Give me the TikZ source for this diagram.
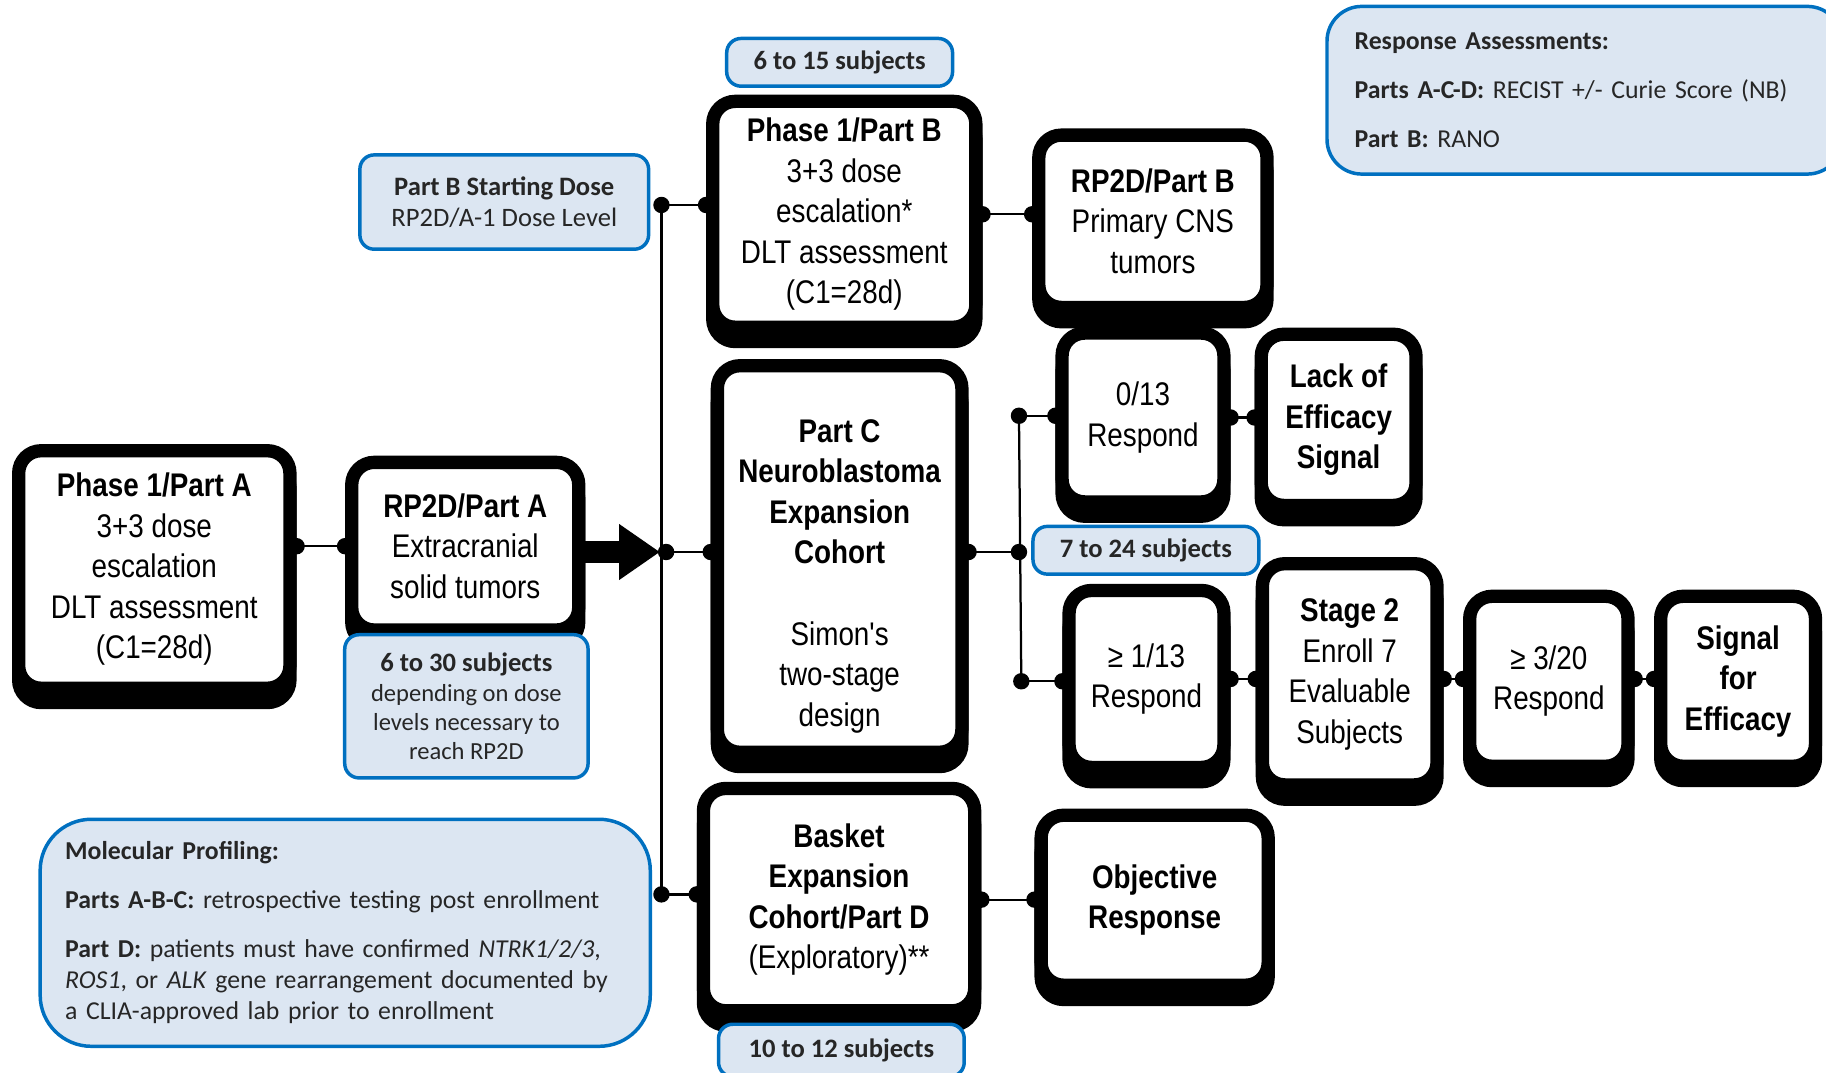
\documentclass[tikz,border=0pt]{standalone}
\usepackage{fontspec}
\usetikzlibrary{arrows.meta}
\newfontfamily\narrowfont[FakeStretch=0.85]{Liberation Sans}
\newfontfamily\calfont{Carlito}
\definecolor{noteblue}{RGB}{0,112,192}
\definecolor{notefill}{RGB}{220,230,242}
\tikzset{
	stepbox/.style={draw=black, line width=6.5pt, fill=white, rounded corners=11pt,
		preaction={draw=black, fill=black, line width=6.5pt, transform canvas={yshift=-7pt}},
		align=center, inner sep=2pt, font=\narrowfont\fontsize{16}{19.8}\selectfont},
	notebox/.style={draw=noteblue, line width=1.7pt, fill=notefill, rounded corners=7pt,
		align=center, inner sep=2pt, text=black!85, font=\calfont\fontsize{13}{15.3}\selectfont},
	link/.style={line width=1.1pt, shorten <=-4pt, shorten >=-4pt, {Circle[length=8pt]}-{Circle[length=8pt]}},
	bus/.style={line width=1.1pt}
}
\begin{document}
\begin{tikzpicture}[x=0.02cm, y=-0.02cm]
		\useasboundingbox (0,0) rectangle (1568,921);
		
		\node[stepbox, minimum width=4.66cm, minimum height=4.08cm] (p1a) at (132.5,489) {\textbf{Phase 1/Part A}\\3+3 dose\\escalation\\DLT assessment\\(C1=28d)};
		\node[stepbox, minimum width=3.9cm, minimum height=2.88cm] (rp2da) at (399.5,469) {\textbf{RP2D/Part A}\\Extracranial\\solid tumors};
		\node[stepbox, minimum width=4.52cm, minimum height=3.88cm] (p1b) at (725,184) {\textbf{Phase 1/Part B}\\3+3 dose\\escalation*\\DLT assessment\\(C1=28d)};
		\node[stepbox, minimum width=3.92cm, minimum height=2.96cm] (rp2db) at (990,190) {\textbf{RP2D/Part B}\\Primary CNS\\tumors};
		\node[stepbox, minimum width=4.2cm, minimum height=6.64cm] (partc) at (721,480) {\rule{0pt}{28pt}\textbf{Part C}\\\textbf{Neuroblastoma}\\\textbf{Expansion}\\\textbf{Cohort}\\[19.8pt]Simon's\\two-stage\\design};
		\node[stepbox, minimum width=2.78cm, minimum height=2.9cm] (r013) at (981.5,358.5) {0/13\\Respond};
		\node[stepbox, minimum width=2.66cm, minimum height=2.94cm] (lack) at (1149.5,360.5) {\textbf{Lack of}\\\textbf{Efficacy}\\\textbf{Signal}};
		\node[stepbox, minimum width=2.66cm, minimum height=3.04cm] (r113) at (984.5,583) {≥ 1/13\\Respond};
		\node[stepbox, minimum width=3cm, minimum height=3.8cm] (stage2) at (1159,579) {\textbf{Stage 2}\\Enroll 7\\Evaluable\\Subjects};
		\node[stepbox, minimum width=2.72cm, minimum height=2.92cm] (r320) at (1330,585) {≥ 3/20\\Respond};
		\node[stepbox, minimum width=2.66cm, minimum height=2.92cm] (signal) at (1492.5,585) {\textbf{Signal}\\\textbf{for}\\\textbf{Efficacy}};
		\node[stepbox, minimum width=4.66cm, minimum height=3.82cm] (basket) at (720.5,772.5) {\textbf{Basket}\\\textbf{Expansion}\\\textbf{Cohort/Part D}\\(Exploratory)**};
		\node[stepbox, minimum width=3.9cm, minimum height=2.92cm] (objresp) at (991.5,773) {\textbf{Objective}\\\textbf{Response}};
		
		\node[notebox, minimum width=4.18cm, minimum height=2.46cm, font=\calfont\fontsize{12}{14.2}\selectfont] (subjA) at (400.5,606.5) {\textbf{\fontsize{13}{14.2}\selectfont 6 to 30 subjects}\\depending on dose\\levels necessary to\\reach RP2D};
		\node[notebox, minimum width=4.96cm, minimum height=1.62cm] (startdose) at (433,173.5) {\textbf{Part B Starting Dose}\\RP2D/A-1 Dose Level};
		\node[notebox, minimum width=3.88cm, minimum height=0.82cm] (subjB) at (721,53.5) {\textbf{6 to 15 subjects}};
		\node[notebox, minimum width=3.88cm, minimum height=0.82cm] (subjC) at (984,472.5) {\textbf{7 to 24 subjects}};
		\node[notebox, minimum width=4.22cm, minimum height=0.9cm] (subjD) at (722.5,902) {\textbf{10 to 12 subjects}};
		\node[notebox, anchor=north west, rounded corners=17pt, minimum width=8.84cm, minimum height=2.88cm, text width=7.9cm, align=left, inner xsep=13.5pt, font=\calfont\fontsize{12.6}{23.8}\selectfont] (respassess) at (1138,4) {\textbf{Response Assessments:}\\\textbf{Parts A-C-D:} RECIST +/- Curie Score (NB)\\\textbf{Part B:} RANO};
		\node[notebox, anchor=north west, rounded corners=25pt, minimum width=10.48cm, minimum height=3.9cm, text width=9.62cm, align=left, inner xsep=12pt, font=\calfont\fontsize{12.6}{15.3}\selectfont] (molprof) at (33,702) {\textbf{Molecular Profiling:}\\[8.5pt]\textbf{Parts A-B-C:} retrospective testing post enrollment\\[8.5pt]\textbf{Part D:} patients must have confirmed \textit{NTRK1/2/3},\\\textit{ROS1}, or \textit{ALK} gene rearrangement documented by\\a CLIA-approved lab prior to enrollment};
		
		\coordinate (busTop) at (568,176);
		\coordinate (busMid) at (572,474);
		\coordinate (busBot) at (568,768);
		\coordinate (splitTop) at (875,357);
		\coordinate (splitMid) at (875,474);
		\coordinate (splitBot) at (877,585);
		
		\draw[link] (rp2da.west -| p1a.east) -- (rp2da.west);
		\draw[line width=11pt, -{Triangle[length=20pt, width=26pt]}] (busMid -| rp2da.east) -- ([xshift=-3pt]busMid);
		\draw[bus] (busTop) -- (busBot);
		\draw[link] (busTop) -- (busTop -| p1b.west);
		\draw[link] (busMid) -- (busMid -| partc.west);
		\draw[link] (busBot) -- (busBot -| basket.west);
		\draw[link] (p1b.east) -- (p1b.east -| rp2db.west);
		\draw[link] (splitMid -| partc.east) -- (splitMid);
		\draw[bus] (splitTop) -- (splitBot);
		\draw[link] (splitTop) -- (splitTop -| r013.west);
		\draw[link] (splitBot) -- (splitBot -| r113.west);
		\draw[link] (r013.east) -- (r013.east -| lack.west);
		\draw[link] (r113.east) -- (r113.east -| stage2.west);
		\draw[link] (r113.east -| stage2.east) -- (r113.east -| r320.west);
		\draw[link] (r113.east -| r320.east) -- (r113.east -| signal.west);
		\draw[link] (basket.east) -- (basket.east -| objresp.west);
		
	\end{tikzpicture}
\end{document}
